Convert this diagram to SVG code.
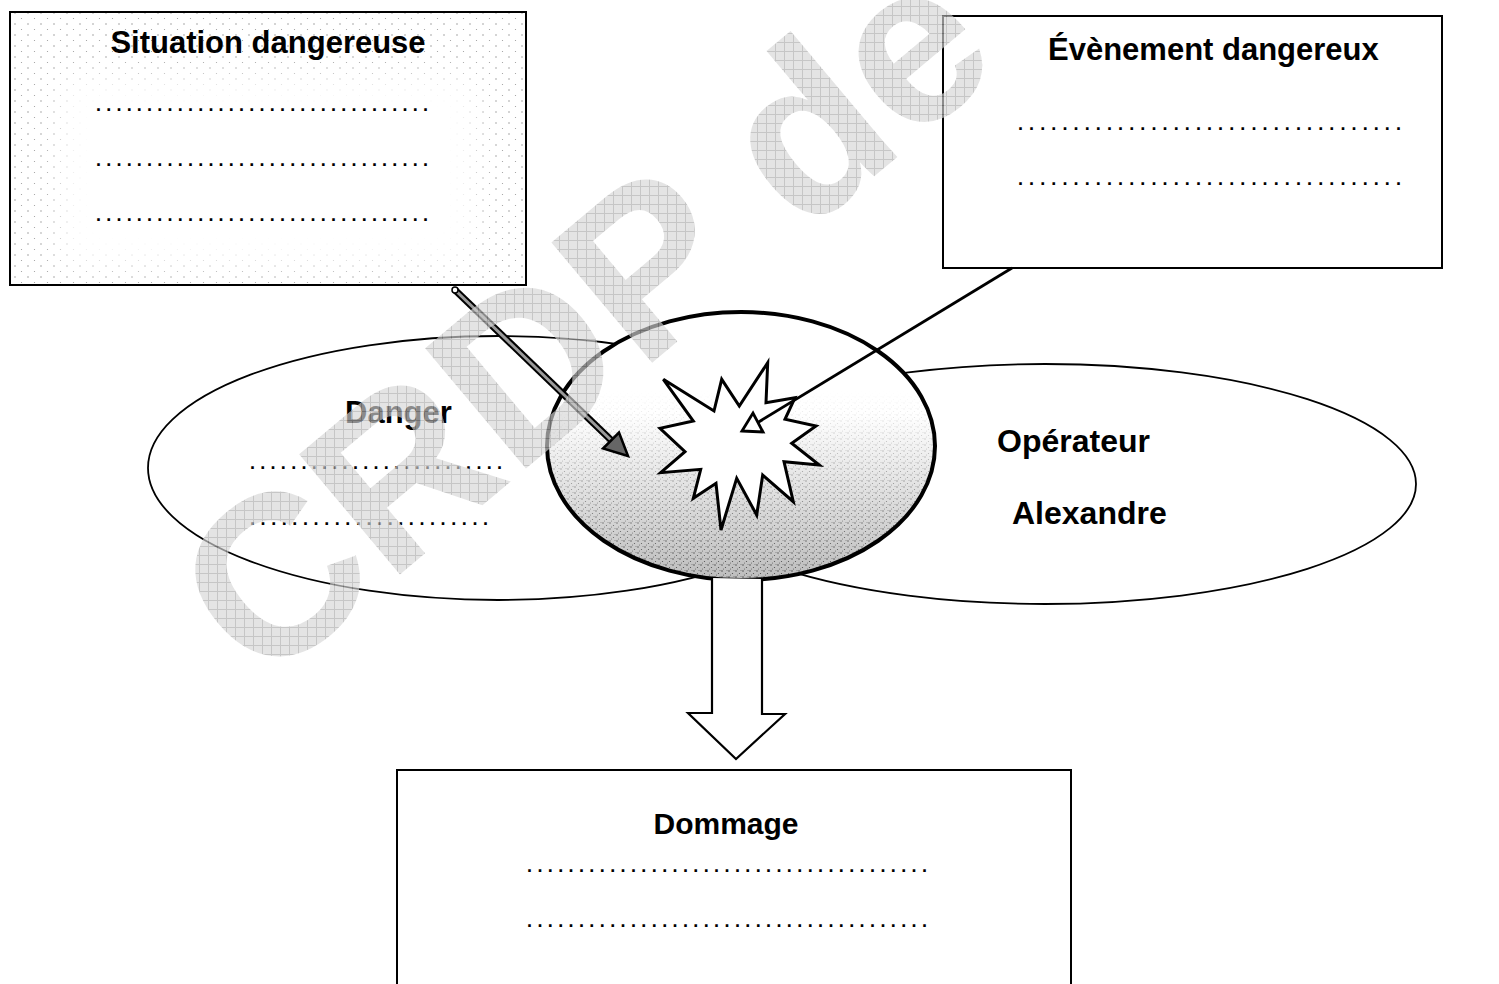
<svg xmlns="http://www.w3.org/2000/svg" width="1499" height="984" viewBox="0 0 1499 984">
<style>
text{font-family:"Liberation Sans",Arial,sans-serif;fill:#000}
.t{font-weight:bold}
.dots{font-size:18px;font-weight:bold}
.box{fill:#fff;stroke:#000;stroke-width:2}
.ell{fill:#fff;stroke:#000;stroke-width:1.8}
</style>
<defs>
<pattern id="stip" patternUnits="userSpaceOnUse" width="13" height="11">
<rect width="13" height="11" fill="#fff"/>
<circle cx="2" cy="2" r="0.7" fill="#8a8a8a"/>
<circle cx="8.5" cy="7.5" r="0.6" fill="#999"/>
</pattern>
<pattern id="cdots" patternUnits="userSpaceOnUse" width="7" height="6">
<circle cx="1" cy="1" r="0.7" fill="#333"/>
<circle cx="4.5" cy="3.5" r="0.6" fill="#444"/>
<circle cx="2.5" cy="5" r="0.5" fill="#555"/>
<circle cx="6" cy="0.5" r="0.5" fill="#666"/>
</pattern>
<linearGradient id="cg" x1="0" y1="0" x2="0" y2="1">
<stop offset="0" stop-color="#fff"/>
<stop offset="0.38" stop-color="#fff"/>
<stop offset="1" stop-color="#bdbdbd"/>
</linearGradient>
<linearGradient id="mg" x1="0" y1="0" x2="0" y2="1">
<stop offset="0.3" stop-color="#000"/>
<stop offset="0.95" stop-color="#fff"/>
</linearGradient>
<mask id="cm" maskUnits="userSpaceOnUse" x="540" y="305" width="400" height="285">
<rect x="540" y="305" width="400" height="285" fill="url(#mg)"/>
</mask>
<clipPath id="c1"><rect x="10" y="12" width="516" height="273"/></clipPath>
<filter id="soft" x="-30%" y="-30%" width="160%" height="160%">
<feGaussianBlur stdDeviation="14"/>
</filter>
<pattern id="hatch" patternUnits="userSpaceOnUse" width="9" height="9" patternTransform="rotate(40)">
<rect width="9" height="9" fill="#d6d6d6"/>
<path d="M0 0.5H9M0.5 0V9" stroke="#a9a9a9" stroke-width="1"/>
</pattern>
</defs>
<rect width="1499" height="984" fill="#fff"/>

<g id="node-danger">
<ellipse class="ell" cx="498" cy="468" rx="350" ry="132"/>
<text class="t" x="345" y="423" font-size="31">Danger</text>
<text class="dots" x="250" y="469" textLength="252" lengthAdjust="spacing">.........................</text>
<text class="dots" x="250" y="525" textLength="238" lengthAdjust="spacing">.......................</text>
</g>

<g id="node-operateur">
<ellipse class="ell" cx="1045" cy="484" rx="371" ry="120"/>
<text class="t" x="997" y="452" font-size="32">Opérateur</text>
<text class="t" x="1012" y="524" font-size="32">Alexandre</text>
</g>

<g id="node-centre">
<ellipse cx="741" cy="446" rx="194" ry="134" fill="url(#cg)"/>
<ellipse cx="741" cy="446" rx="194" ry="134" fill="url(#cdots)" mask="url(#cm)"/>
<ellipse cx="741" cy="446" rx="194" ry="134" fill="none" stroke="#000" stroke-width="4"/>
<polygon points="663.3,379.3 714,411 721.7,379.3 739.3,406 767.7,362.7 766,402.7 795,397.7 785,419.3 816,426 791.7,443.3 819.3,465 784,461.7 793.3,501.7 762.7,475 756.7,515 736.7,478.3 721,530 716,483.3 693.3,498.3 700.7,469.3 660.7,472.7 685,451.7 660,428.3 693.3,421" fill="#fff" stroke="#000" stroke-width="3" stroke-linejoin="miter"/>
</g>

<g id="node-situation">
<rect x="10" y="12" width="516" height="273" fill="url(#stip)"/>
<g clip-path="url(#c1)"><rect x="62" y="78" width="412" height="186" fill="#fff" filter="url(#soft)"/></g>
<rect x="10" y="12" width="516" height="273" fill="none" stroke="#000" stroke-width="2"/>
<text class="t" x="268" y="53" font-size="31" text-anchor="middle">Situation dangereuse</text>
<text class="dots" x="96" y="111" textLength="332" lengthAdjust="spacing">.................................</text>
<text class="dots" x="96" y="166" textLength="332" lengthAdjust="spacing">.................................</text>
<text class="dots" x="96" y="221" textLength="332" lengthAdjust="spacing">.................................</text>
</g>

<g id="node-evenement">
<rect class="box" x="943" y="16" width="499" height="252"/>
<text class="t" x="1048" y="60" font-size="31">Évènement dangereux</text>
<text class="dots" x="1018" y="130" textLength="383" lengthAdjust="spacing">...................................</text>
<text class="dots" x="1018" y="185" textLength="383" lengthAdjust="spacing">...................................</text>
</g>

<g id="node-dommage">
<rect class="box" x="397" y="770" width="674" height="240"/>
<text class="t" x="726" y="834" font-size="30" text-anchor="middle">Dommage</text>
<text class="dots" x="527" y="872" textLength="400" lengthAdjust="spacing">.......................................</text>
<text class="dots" x="527" y="927" textLength="400" lengthAdjust="spacing">.......................................</text>
</g>

<g id="connectors">
<path d="M712,578 V713 H688 L736,759 L785,714 H762 V579" fill="#fff" stroke="#000" stroke-width="2.2" stroke-linejoin="miter"/>
<line x1="455" y1="290" x2="612" y2="441" stroke="#000" stroke-width="7"/>
<line x1="455" y1="290" x2="612" y2="441" stroke="#9a9a9a" stroke-width="3"/>
<circle cx="455" cy="290" r="3" fill="#fff" stroke="#000" stroke-width="1.5"/>
<polygon points="628,456 619,432.5 603,448.5" fill="#666" stroke="#000" stroke-width="2.5" stroke-linejoin="miter"/>
<line x1="1012" y1="268" x2="757" y2="423" stroke="#000" stroke-width="2.8"/>
<polygon points="742,431 763,432 753,413" fill="#fff" stroke="#000" stroke-width="2.8" stroke-linejoin="miter"/>
</g>

<g id="watermark" opacity="0.65">
<text transform="translate(262,690) rotate(-40)" font-size="228" font-weight="bold" style="fill:url(#hatch)">CRDP de</text>
</g>
</svg>
